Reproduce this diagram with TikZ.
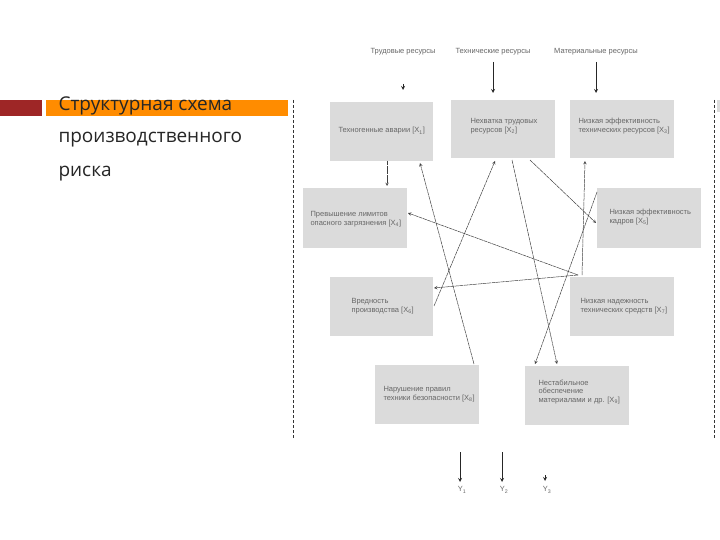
\documentclass[tikz,border=0pt]{standalone}
\usepackage{fontspec}
\setmainfont{Liberation Sans}
\newfontfamily\titlefont{Open Sans}
\begin{document}
\begin{tikzpicture}[x=1pt,y=-1pt,
  box/.style={fill=black!14,draw=none,inner sep=0pt},
  btxt/.style={font=\fontsize{7.5}{8.5}\selectfont,text=black!60,align=left,anchor=west},
  con/.style={draw=black!75,line width=0.5pt,dash pattern=on 4pt off 0.6pt,-stealth},
  ar/.style={draw=black!85,line width=0.8pt,-stealth},
  sep/.style={draw=black!80,line width=0.6pt,densely dashed}]
\useasboundingbox (0,0) rectangle (720,540);
\fill[white] (0,0) rectangle (720,540);
% title
\fill[red!55!black!85] (0,100) rectangle (42,116);
\fill[orange!90!yellow] (46,100) rectangle (288,116);
\node[anchor=west,font=\titlefont\fontsize{19}{22}\selectfont,text=black!85] (t1) at (55,106) {Структурная схема};
\node[anchor=west,font=\titlefont\fontsize{19}{22}\selectfont,text=black!85] (t2) at (55,140) {производственного};
\node[anchor=west,font=\titlefont\fontsize{19}{22}\selectfont,text=black!85] (t3) at (55,174) {риска};
\draw[sep] (293,100) coordinate (s1) -- (293,438) coordinate (s2);
\draw[sep] (714,100) coordinate (s3) -- (714,438) coordinate (s4);
\fill[black!14] (717,100) rectangle (720,112);
% resources
\node[btxt,anchor=center] (r1) at (403,52) {Трудовые ресурсы};
\node[btxt,anchor=center] (r2) at (493,52) {Технические ресурсы};
\node[btxt,anchor=center] (r3) at (596,52) {Материальные ресурсы};
% boxes
\path[box] (330,102) rectangle (433,161) coordinate (b1c);
\path[box] (451,100) rectangle (555,158);
\path[box] (570,100) rectangle (674,158);
\path[box] (303,188) rectangle (407,248);
\path[box] (597,188) rectangle (701,248);
\path[box] (330,277) rectangle (433,336);
\path[box] (570,277) rectangle (674,336);
\path[box] (375,365) rectangle (479,424);
\path[box] (525,366) rectangle (629,425);
\node[btxt] (x1) at (335,131) {Техногенные аварии [X\textsubscript{1}]};
\node[btxt] (x2) at (467,126) {Нехватка трудовых\\ресурсов [X\textsubscript{2}]};
\node[btxt] (x3) at (575,126) {Низкая эффективность\\технических ресурсов [X\textsubscript{3}]};
\node[btxt] (x4) at (307,219) {Превышение лимитов\\опасного загрязнения [X\textsubscript{4}]};
\node[btxt] (x5) at (606,217) {Низкая эффективность\\кадров [X\textsubscript{5}]};
\node[btxt] (x6) at (348,306) {Вредность\\производства [X\textsubscript{6}]};
\node[btxt] (x7) at (577,306) {Низкая надежность\\технических средств [X\textsubscript{7}]};
\node[btxt] (x8) at (380,394) {Нарушение правил\\техники безопасности [X\textsubscript{8}]};
\node[btxt] (x9) at (535,392) {Нестабильное\\обеспечение\\материалами и др. [X\textsubscript{9}]};
% input arrows
\coordinate (i1a) at (403,84); \coordinate (i1b) at (403,90);
\coordinate (i2a) at (493,62); \coordinate (i2b) at (493,93);
\coordinate (i3a) at (596,62); \coordinate (i3b) at (596,93);
\draw[ar] (i1a) -- (i1b);
\draw[ar] (i2a) -- (i2b);
\draw[ar] (i3a) -- (i3b);
% connectors
\coordinate (c1a) at (387,161); \coordinate (c1b) at (387,186);
\draw[con] (c1a) -- (c1b);
\coordinate (c2a) at (474,364); \coordinate (c2b) at (420,163);
\draw[con] (c2a) -- (c2b);
\coordinate (c3a) at (434,306); \coordinate (c3b) at (495,161);
\draw[con] (c3a) -- (c3b);
\coordinate (c4a) at (512,160); \coordinate (c4b) at (557,364);
\draw[con] (c4a) -- (c4b);
\coordinate (c5a) at (530,160); \coordinate (c5b) at (596,223);
\draw[con] (c5a) -- (c5b);
\coordinate (c6a) at (582,275); \coordinate (c6b) at (585,161);
\draw[con] (c6a) -- (c6b);
\coordinate (c7a) at (597,192); \coordinate (c7b) at (535,364);
\draw[con] (c7a) -- (c7b);
\coordinate (c8a) at (578,275); \coordinate (c8b) at (408,213);
\draw[con] (c8a) -- (c8b);
\coordinate (c9a) at (578,275); \coordinate (c9b) at (434,288);
\draw[con] (c9a) -- (c9b);
% outputs
\coordinate (o1a) at (460,452); \coordinate (o1b) at (460,482);
\coordinate (o2a) at (502,452); \coordinate (o2b) at (502,482);
\coordinate (o3a) at (545,475); \coordinate (o3b) at (545,481);
\draw[ar] (o1a) -- (o1b);
\draw[ar] (o2a) -- (o2b);
\draw[ar] (o3a) -- (o3b);
\node[btxt,anchor=center] (y1) at (462,490) {Y\textsubscript{1}};
\node[btxt,anchor=center] (y2) at (504,490) {Y\textsubscript{2}};
\node[btxt,anchor=center] (y3) at (547,490) {Y\textsubscript{3}};
\end{tikzpicture}
\end{document}
